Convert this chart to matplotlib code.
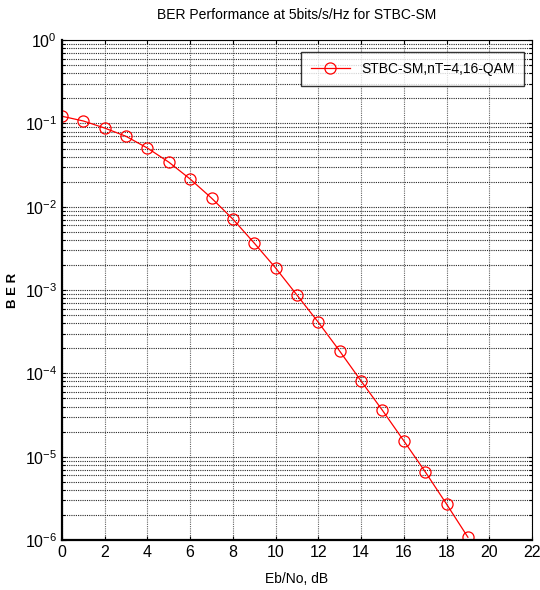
import numpy as np
import matplotlib
matplotlib.use('Agg')
import matplotlib.pyplot as plt
from matplotlib.ticker import LogLocator, FixedLocator, FuncFormatter

plt.rcParams['font.family'] = ['Liberation Sans', 'DejaVu Sans']
plt.rcParams['mathtext.fontset'] = 'custom'
plt.rcParams['mathtext.rm'] = 'Liberation Sans'
plt.rcParams['mathtext.it'] = 'Liberation Sans'

# --- data ---
snr_db = [0, 1, 2, 3, 4, 5, 6, 7, 8, 9, 10, 11, 12, 13, 14, 15, 16, 17, 18, 19]
ber = [0.122, 0.107, 0.088, 0.070, 0.0506, 0.0343, 0.0215, 0.0127, 0.0071,
       0.00366, 0.00184, 0.00087, 0.00041, 0.000185, 8.1e-5, 3.6e-5,
       1.55e-5, 6.6e-6, 2.7e-6, 1.08e-6]
x_ticks = [0, 2, 4, 6, 8, 10, 12, 14, 16, 18, 20, 22]
y_decades = [1e-6, 1e-5, 1e-4, 1e-3, 1e-2, 1e-1, 1e0]
series_label = 'STBC-SM,nT=4,16-QAM'

fig = plt.figure(figsize=(5.4, 5.9), dpi=100)
ax = fig.add_axes([0.1148, 0.0847, 0.8704, 0.8473])

ax.semilogy(snr_db, ber, '-o', color='red', lw=0.9, ms=8,
            mfc='none', mec='red', mew=0.9, label=series_label)

ax.set_xlim(0, 22)
ax.set_ylim(1e-6, 1)
ax.xaxis.set_major_locator(FixedLocator(x_ticks))
ax.yaxis.set_major_locator(FixedLocator(y_decades))
ax.yaxis.set_minor_locator(LogLocator(base=10, subs=np.arange(2, 10)))
ax.yaxis.set_major_formatter(
    FuncFormatter(lambda v, p: r'$\mathregular{10^{%d}}$' % round(np.log10(v))))

# horizontal grid reads darker than the vertical one in the reference
ax.grid(True, which='major', axis='x', color='0.4', ls=(0, (1, 1)), lw=0.8)
ax.grid(True, which='both', axis='y', color='0.15', ls=(0, (1, 1)), lw=0.8)

ax.tick_params(which='both', direction='in', top=True, right=True,
               labelsize=11.5, length=3, width=0.8)
ax.tick_params(which='minor', length=2)
for s in ['left', 'bottom']:
    ax.spines[s].set_linewidth(1.6)
for s in ['top', 'right']:
    ax.spines[s].set_linewidth(0.8)

ax.set_title('BER Performance at 5bits/s/Hz for STBC-SM', fontsize=10, pad=15)
ax.set_xlabel('Eb/No, dB', fontsize=10, labelpad=9)
ax.set_ylabel('B E R', fontsize=9.5, fontweight='bold', labelpad=4)

leg = ax.legend(loc='upper right', fontsize=10, frameon=True, fancybox=False,
                edgecolor='black', borderpad=0.7, handlelength=2.8,
                bbox_to_anchor=(0.998, 0.99))
leg.get_frame().set_linewidth(1.0)

fig.savefig('out.png', dpi=100)
